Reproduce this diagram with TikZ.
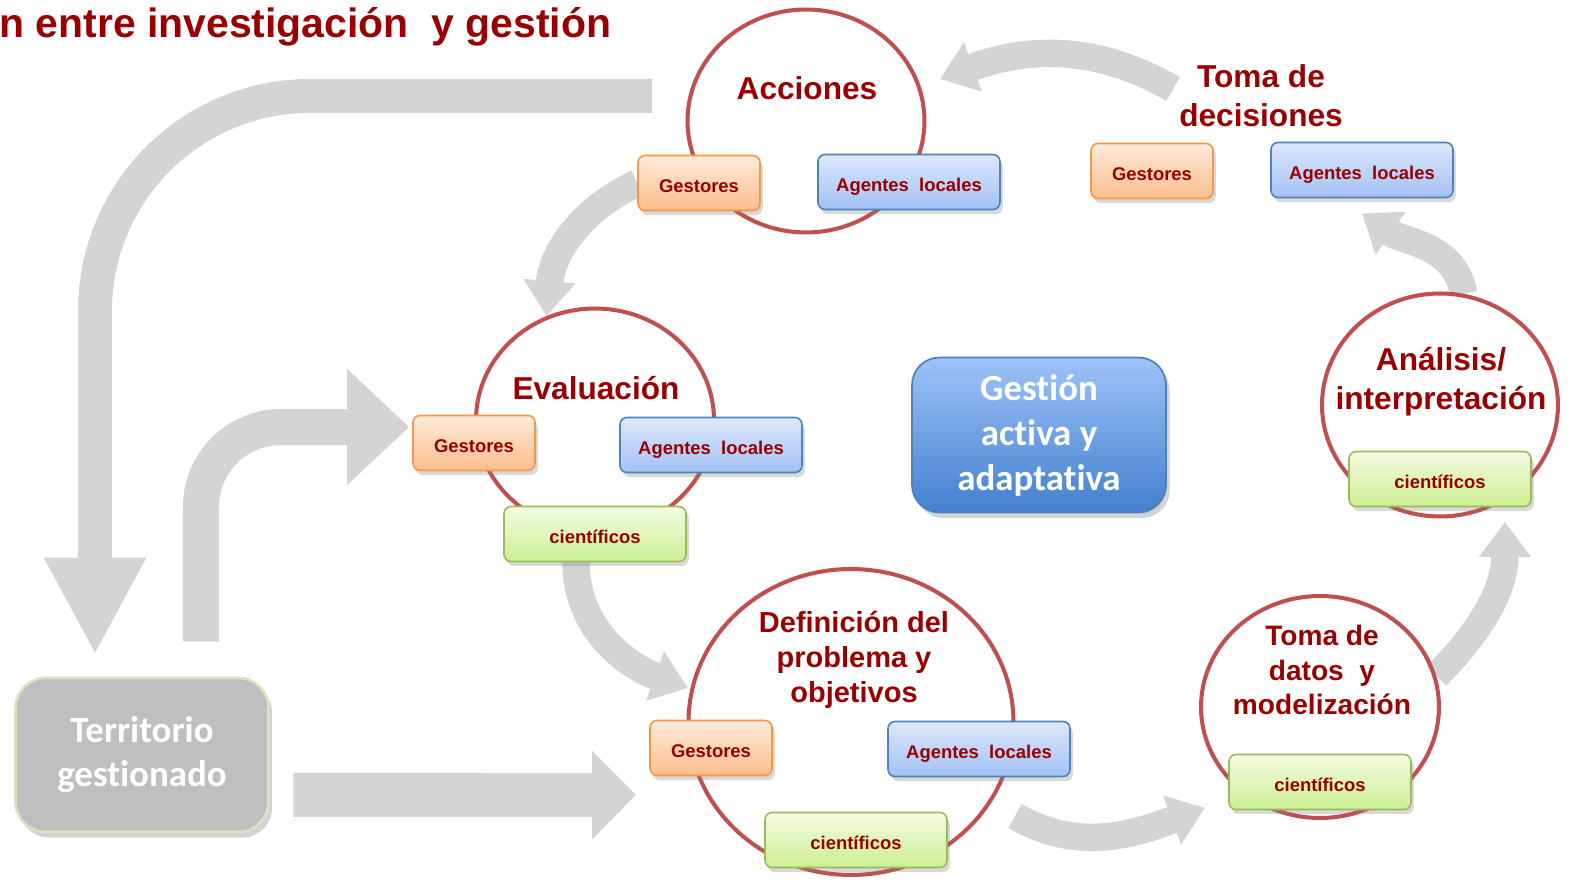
\documentclass[tikz,border=0pt]{standalone}
\usepackage{fontspec}
\setmainfont{Liberation Sans}
\newfontfamily\calibrifont[Ligatures=NoCommon]{Carlito}
\usetikzlibrary{shapes,arrows.meta}
\usetikzlibrary{positioning}
\usetikzlibrary{shadows}
\usetikzlibrary{backgrounds}
\definecolor{darkred}{HTML}{990000}
\definecolor{ringred}{HTML}{C0504D}
\definecolor{flowgray}{HTML}{D4D4D4}
\definecolor{gesTop}{HTML}{FFEBDB}
\definecolor{gesBot}{HTML}{FBBE8C}
\definecolor{gesLine}{HTML}{F79646}
\definecolor{ageTop}{HTML}{DDE8FB}
\definecolor{ageBot}{HTML}{A3C1F5}
\definecolor{ageLine}{HTML}{4F81BD}
\definecolor{cieTop}{HTML}{F4FCE2}
\definecolor{cieBot}{HTML}{CBEF92}
\definecolor{cieLine}{HTML}{9BBB59}
\tikzstyle{title} = [text=darkred, inner sep=0pt,
    font=\bfseries\fontsize{23.3}{28}\selectfont]
\tikzstyle{stage} = [ellipse, draw=ringred, line width=2.3pt, inner sep=0pt]
\tikzstyle{heading} = [text=darkred, align=center,
    font=\bfseries\fontsize{18}{22}\selectfont]
\tikzstyle{role} = [rectangle, rounded corners=4pt, line width=0.9pt,
    text=darkred, font=\bfseries\fontsize{10.5}{12}\selectfont,
    minimum height=1.1cm, text height=11pt, text depth=0pt,
    drop shadow={shadow xshift=.3ex, shadow yshift=-.5ex, opacity=.3}]
\tikzstyle{gestor} = [role, minimum width=2.44cm,
    top color=gesTop, bottom color=gesBot, draw=gesLine]
\tikzstyle{agente} = [role, minimum width=3.64cm,
    top color=ageTop, bottom color=ageBot, draw=ageLine]
\tikzstyle{cientifico} = [role, minimum width=3.64cm,
    top color=cieTop, bottom color=cieBot, draw=cieLine]
\tikzstyle{core} = [rectangle, rounded corners=0.55cm, draw=ageLine,
    line width=1pt, top color={rgb,255:red,157;green,195;blue,248},
    bottom color={rgb,255:red,67;green,128;blue,207},
    minimum width=5.08cm, minimum height=3.1cm, align=center, text=white,
    font=\calibrifont\bfseries\fontsize{21}{25.6}\selectfont,
    drop shadow={shadow xshift=.4ex, shadow yshift=-.6ex, opacity=.35}]
\tikzstyle{land} = [rectangle, rounded corners=0.6cm,
    draw={rgb,255:red,215;green,228;blue,189}, line width=1.5pt,
    fill={rgb,255:red,191;green,191;blue,191},
    minimum width=5.06cm, minimum height=3.08cm, align=center, text=white,
    font=\calibrifont\bfseries\fontsize{21}{25}\selectfont,
    drop shadow={shadow xshift=.4ex, shadow yshift=-.6ex, opacity=.35}]
\tikzstyle{flow} = [draw=flowgray]
\tikzstyle{bend flow} = [flow, line width=0.55cm,
    -{Triangle[width=1cm,length=0.7cm]}]

\begin{document}
\begin{tikzpicture}[x=0.02cm, y=-0.02cm]
  \useasboundingbox (0,0) rectangle (1570,881);
  % Title
  \node [title, anchor=base west] (title) at (-1,38)
    {n entre investigación~ y gestión};

  % Rings of the cycle
  \node [stage, minimum width=4.74cm, minimum height=4.46cm] (acc) at (806,121) {};
  \node [stage, minimum width=4.76cm, minimum height=4.46cm] (eva) at (595,420) {};
  \node [stage, minimum width=6.5cm, minimum height=6.12cm] (defi) at (851,722) {};
  \node [stage, minimum width=4.76cm, minimum height=4.44cm] (datos) at (1320,707) {};
  \node [stage, minimum width=4.72cm, minimum height=4.46cm] (anal) at (1440,405) {};

  % Ring titles
  \node [heading] (accT) at (807,88) {Acciones};
  \node [heading] (tdec) at (1261,96) {Toma de\\decisiones};
  \node [heading] (evaT) at (596,388) {Evaluación};
  \node [heading] (anaT) at (1441,382) {Análisis/\\interpretación};
  \node [heading, font=\bfseries\fontsize{16.5}{20}\selectfont] (defT)
    at (854,660) {Definición del\\problema y\\objetivos};
  \node [heading, font=\bfseries\fontsize{16}{19.4}\selectfont] (datT)
    at (1322,670) {Toma de\\datos~ y\\modelización};

  % Actors
  \node [gestor] (accG) at (699,183) {Gestores};
  \node [agente] (accA) at (909,182) {Agentes~ locales};
  \node [gestor] (tdecG) at (1152,171) {Gestores};
  \node [agente] (tdecA) at (1362,170) {Agentes~ locales};
  \node [gestor] (evaG) at (474,443) {Gestores};
  \node [agente] (evaA) at (711,445) {Agentes~ locales};
  \node [cientifico] (evaC) at (595,534) {científicos};
  \node [cientifico] (anaC) at (1440,479) {científicos};
  \node [cientifico] (datC) at (1320,782) {científicos};
  \node [gestor] (defG) at (711,748) {Gestores};
  \node [agente] (defA) at (979,749) {Agentes~ locales};
  \node [cientifico] (defC) at (856,840) {científicos};

  % Big boxes
  \node [core] (core) at (1039,435) {Gestión\\activa y\\adaptativa};
  \node [land] (terr) at (142,755) {Territorio\\gestionado};

  % Grey flow arrows
  \coordinate (topEnd) at (652,96);
  \coordinate (defIn) at (636,795);
  \coordinate (accIn) at (940,79);
  \coordinate (anaIn) at (1505,522);
  \coordinate (defOut) at (1015,816);
  \coordinate (datIn) at (1205,808);
  \coordinate (defIn2) at (688,688);
  \begin{pgfonlayer}{background}
    \draw [flow, line width=0.68cm, rounded corners=4.3cm,
      -{Triangle[width=1.9cm,length=1.94cm]}]
      (topEnd) -| ([xshift=-0.94cm, yshift=0.44cm]terr.north);
    \draw [flow, line width=0.72cm, rounded corners=1.6cm,
      -{Triangle[width=2.24cm,length=1.24cm]}]
      ([xshift=1.18cm, yshift=0.7cm]terr.north)
      |- ([xshift=-0.06cm, yshift=0.32cm]evaG.west);
    \draw [flow, line width=0.88cm, -{Triangle[width=1.72cm,length=0.88cm]}]
      ([xshift=0.47cm, yshift=-0.8cm]terr.east) -- (defIn);

    \draw [bend flow] (accG.west) to[out=205, in=85] (eva.115);
    \draw [bend flow] ([yshift=0.14cm]tdec.west) to[out=150, in=20] (accIn);
    \draw [bend flow] (anal.78) to[out=100, in=-35] ([yshift=-0.3cm]tdecA.south);
    \draw [bend flow] (datos.15) to[out=45, in=-90] (anaIn);
    \draw [bend flow] (defOut) to[out=-30, in=200] (datIn);
    \draw [bend flow] ([xshift=-0.38cm]evaC.south) to[out=-90, in=160] (defIn2);
  \end{pgfonlayer}
\end{tikzpicture}
\end{document}
